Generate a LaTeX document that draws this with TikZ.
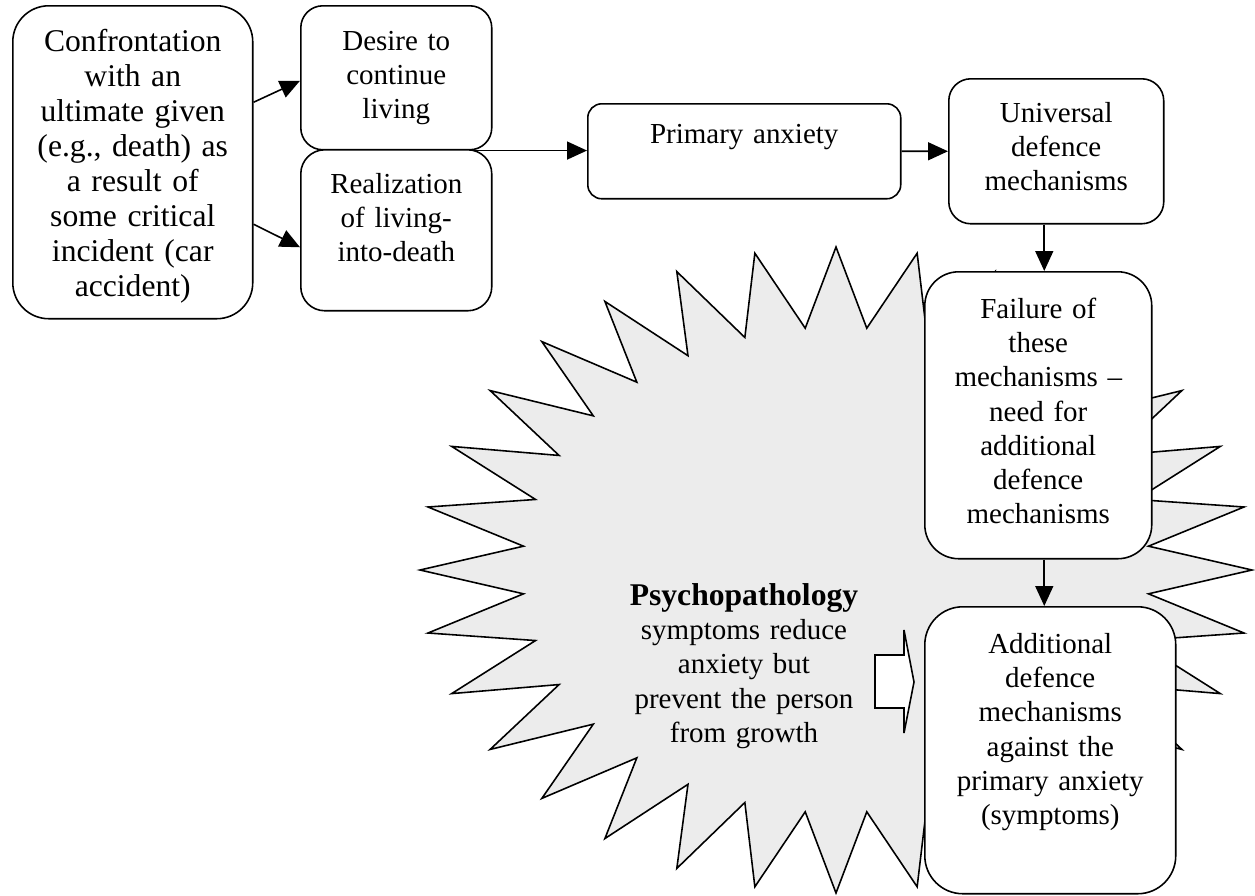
\documentclass[tikz,border=0pt]{standalone}
\usepackage{fontspec}
\setmainfont{Liberation Serif}
\usetikzlibrary{arrows.meta}
\begin{document}
\begin{tikzpicture}[x=0.02cm,y=-0.02cm,line width=0.9pt,
    font=\fontsize{16.5}{19.4}\selectfont,
    box/.style={draw,fill=white,align=center,inner sep=0pt,anchor=north west},
    arr/.style={-{Triangle[length=0.4cm,width=0.36cm]}},
    burst/.style={draw,fill=gray!15}]
\useasboundingbox (0,0) rectangle (1255,896);
% the 32-point burst behind the right column
\draw[burst] (1252,570) \foreach \k in {0,...,31}{
    -- ({836+314*cos((\k+0.5)*11.25)},{570+243*sin((\k+0.5)*11.25)})
    -- ({836+416*cos((\k+1)*11.25)},{570+323*sin((\k+1)*11.25)})} -- cycle;
\node[box,rounded corners=0.72cm,text width=4.8cm,text height=0.92cm,text depth=5.34cm,
    font=\fontsize{18}{19.9}\selectfont] (conf) at (12,5)
    {Confrontation\\ with an\\ ultimate given\\ (e.g., death) as\\ a result of\\ some critical\\ incident (car\\ accident)};
\node[box,rounded corners=0.44cm,text width=3.82cm,text height=0.9cm,text depth=1.98cm] (desire) at (300,5)
    {Desire to\\ continue\\ living};
\node[box,rounded corners=0.48cm,text width=3.82cm,text height=0.88cm,text depth=2.34cm] (real) at (300,149)
    {Realization\\ of living-\\ into-death};
\node[box,rounded corners=0.28cm,text width=6.26cm,text height=0.8cm,text depth=1.1cm] (prim) at (587,103)
    {Primary anxiety};
\node[box,rounded corners=0.44cm,text width=4.3cm,text height=0.88cm,text depth=2.02cm] (univ) at (948,78)
    {Universal\\ defence\\ mechanisms};
\node[box,rounded corners=0.68cm,text width=4.54cm,text height=0.94cm,text depth=4.8cm] (fail) at (924,271)
    {Failure of\\ these\\ mechanisms --\\ need for\\ additional\\ defence\\ mechanisms};
\node[box,rounded corners=0.76cm,text width=5.02cm,text height=0.94cm,text depth=4.8cm] (addl) at (924,606)
    {Additional\\ defence\\ mechanisms\\ against the\\ primary anxiety\\ (symptoms)};
\node[align=center,text width=5cm,text height=0.4cm,inner sep=0pt,anchor=north] (psy) at (744,585)
    {{\fontsize{18}{19.4}\selectfont\bfseries Psychopathology}\\ symptoms reduce\\ anxiety but\\ prevent the person\\ from growth};
% connectors
\draw[arr] ([yshift=1.2cm]conf.east) -- ([yshift=-0.06cm]desire.west);
\draw[arr] ([yshift=-1.24cm]conf.east) -- ([yshift=-0.34cm]real.west);
\draw[arr] ([xshift=-0.36cm]desire.south east) -- (desire.south east -| prim.west);
\draw[arr] (prim.east) -- (univ.west);
\draw[arr] ([xshift=0.12cm]fail.north |- univ.south) -- ([xshift=0.12cm]fail.north);
\draw[arr] ([xshift=0.12cm]fail.south) -- ([xshift=0.12cm]addl.north -| fail.south);
% hollow block arrow
\draw[fill=white] (875,655) -- (904,655) -- (904,630) -- (914,682) -- (904,733) -- (904,708) -- (875,708) -- cycle;
\end{tikzpicture}
\end{document}
